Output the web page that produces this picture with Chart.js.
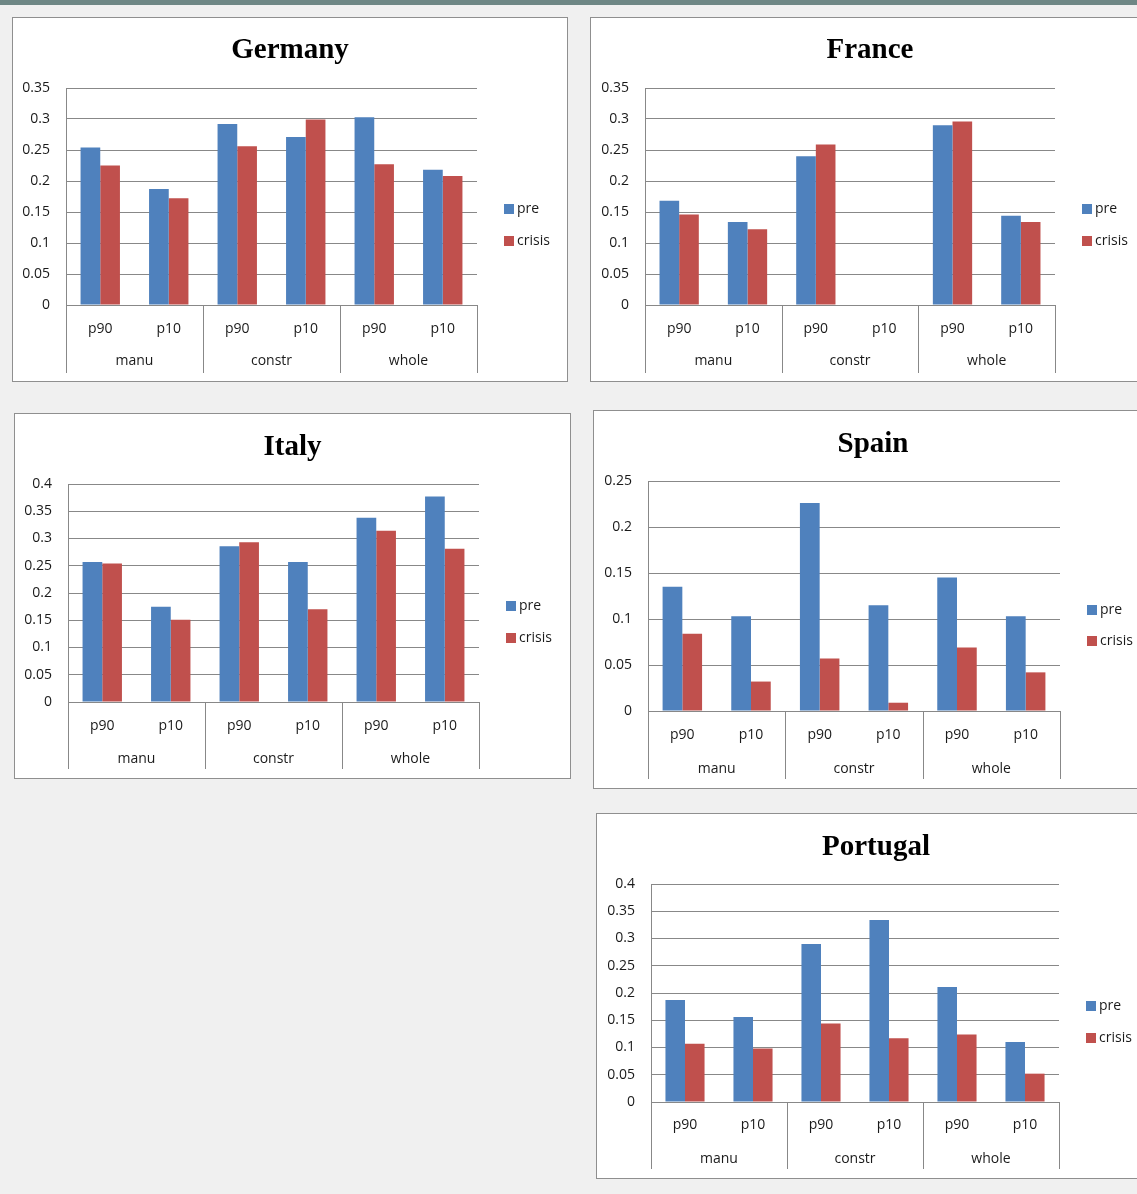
<!DOCTYPE html>
<html>
<head>
<meta charset="utf-8">
<script src="https://cdn.jsdelivr.net/npm/chart.js@4.4.0/dist/chart.umd.min.js"></script>
<style>
  html, body { margin: 0; padding: 0; }
  body { width: 1137px; height: 1194px; background: #f0f0f0; position: relative; overflow: hidden; }
  .topbar { position: absolute; left: 0; top: 0; width: 1137px; height: 5px; background: #6e8785; }
  .panel { position: absolute; box-sizing: border-box; border: 1px solid #8f8f8f; background: #fff; }
  .panel canvas { position: absolute; left: 0; top: 0; }
</style>
</head>
<body>
<div class="topbar"></div>
<script>
// categories
const groups = ['manu', 'constr', 'whole'];
const subCats = ['p90', 'p10', 'p90', 'p10', 'p90', 'p10'];
const seriesNames = ['pre', 'crisis'];

// values (p90/p10 for manu, constr, whole)
const germanyPre = [0.254, 0.187, 0.292, 0.271, 0.303, 0.218];
const germanyCrisis = [0.225, 0.172, 0.256, 0.299, 0.227, 0.208];
const francePre = [0.168, 0.134, 0.240, null, 0.290, 0.144];
const franceCrisis = [0.146, 0.122, 0.259, null, 0.296, 0.134];
const italyPre = [0.257, 0.175, 0.286, 0.257, 0.338, 0.377];
const italyCrisis = [0.254, 0.151, 0.293, 0.170, 0.314, 0.281];
const spainPre = [0.135, 0.103, 0.226, 0.115, 0.145, 0.103];
const spainCrisis = [0.084, 0.032, 0.057, 0.009, 0.069, 0.042];
const portugalPre = [0.187, 0.156, 0.290, 0.334, 0.211, 0.110];
const portugalCrisis = [0.107, 0.098, 0.144, 0.117, 0.124, 0.052];

// y axis maxima
const yMaxes = { Germany: 0.35, France: 0.35, Italy: 0.4, Spain: 0.25, Portugal: 0.4 };

const colors = ['#4f81bd', '#c0504d'];
const gridColor = '#888888';
const textColor = '#1a1a1a';
const sansFont = '"Open Sans", "Liberation Sans", sans-serif';

// panel layout, page pixels
const panels = [
  { title: 'Germany', pre: germanyPre, crisis: germanyCrisis,
    box: { x: 12, y: 17, w: 556, h: 365 }, plot: { l: 66, t: 88, r: 477, b: 305 },
    titleY: 48, legX: 504, legY: [209, 241], tickY: 329, groupY: 361, sepB: 373 },
  { title: 'France', pre: francePre, crisis: franceCrisis,
    box: { x: 590, y: 17, w: 560, h: 365 }, plot: { l: 645, t: 88, r: 1055, b: 305 },
    titleY: 48, legX: 1082, legY: [209, 241], tickY: 329, groupY: 361, sepB: 373 },
  { title: 'Italy', pre: italyPre, crisis: italyCrisis,
    box: { x: 14, y: 413, w: 557, h: 366 }, plot: { l: 68, t: 484, r: 479, b: 702 },
    titleY: 445, legX: 506, legY: [606, 638], tickY: 726, groupY: 759, sepB: 769 },
  { title: 'Spain', pre: spainPre, crisis: spainCrisis,
    box: { x: 593, y: 410, w: 560, h: 379 }, plot: { l: 648, t: 481, r: 1060, b: 711 },
    titleY: 442, legX: 1087, legY: [610, 641], tickY: 735, groupY: 769, sepB: 779 },
  { title: 'Portugal', pre: portugalPre, crisis: portugalCrisis,
    box: { x: 596, y: 813, w: 560, h: 366 }, plot: { l: 651, t: 884, r: 1059, b: 1102 },
    titleY: 845, legX: 1086, legY: [1006, 1038], tickY: 1125, groupY: 1159, sepB: 1169 },
];

// group labels + separators under the category axis, and the side legend
const excelBits = {
  id: 'excelBits',
  afterDraw(chart, args, opts) {
    const x = chart.scales.x;
    const area = chart.chartArea;
    const ctx = chart.ctx;
    const step = x.getPixelForValue(1) - x.getPixelForValue(0);
    const edge = (k) => x.getPixelForValue(0) + (k - 0.5) * step;

    ctx.save();
    ctx.strokeStyle = gridColor;
    ctx.lineWidth = 1;
    for (let g = 0; g <= groups.length; g++) {
      const px = Math.round(edge(g * 2)) + 0.5;
      ctx.beginPath();
      ctx.moveTo(px, area.bottom);
      ctx.lineTo(px, area.bottom + opts.sepLen);
      ctx.stroke();
    }

    ctx.fillStyle = textColor;
    ctx.font = '14px ' + sansFont;
    ctx.textAlign = 'center';
    ctx.textBaseline = 'middle';
    groups.forEach((name, g) => {
      ctx.fillText(name, (edge(g * 2) + edge(g * 2 + 2)) / 2, area.bottom + opts.groupOffset);
    });

    ctx.textAlign = 'left';
    chart.data.datasets.forEach((ds, i) => {
      const y = opts.legY[i];
      ctx.fillStyle = ds.backgroundColor;
      ctx.fillRect(opts.legX, y - 5, 10, 10);
      ctx.fillStyle = textColor;
      ctx.fillText(ds.label, opts.legX + 13, y);
    });
    ctx.restore();
  }
};

panels.forEach((p) => {
  const div = document.createElement('div');
  div.className = 'panel';
  div.style.left = p.box.x + 'px';
  div.style.top = p.box.y + 'px';
  div.style.width = p.box.w + 'px';
  div.style.height = p.box.h + 'px';
  const canvas = document.createElement('canvas');
  const cw = p.box.w - 2;
  const ch = p.box.h - 2;
  canvas.width = cw;
  canvas.height = ch;
  canvas.style.width = cw + 'px';
  canvas.style.height = ch + 'px';
  div.appendChild(canvas);
  document.body.appendChild(div);

  const ox = p.box.x + 1;
  const oy = p.box.y + 1;
  const titleSize = 29;
  const titlePadTop = p.titleY - oy - titleSize / 2 + 3;
  const titlePadBottom = (p.plot.t - oy) - titlePadTop - titleSize;

  new Chart(canvas, {
    type: 'bar',
    data: {
      labels: subCats,
      datasets: [
        { label: seriesNames[0], data: p.pre, backgroundColor: colors[0] },
        { label: seriesNames[1], data: p.crisis, backgroundColor: colors[1] },
      ],
    },
    options: {
      responsive: false,
      animation: false,
      devicePixelRatio: 1,
      datasets: {
        bar: { barPercentage: 1, categoryPercentage: 0.575, borderWidth: 0 },
      },
      layout: { padding: 0 },
      plugins: {
        legend: { display: false },
        tooltip: { enabled: false },
        title: {
          display: true,
          text: p.title,
          color: '#000',
          font: { family: '"Liberation Serif", "Times New Roman", serif', weight: 'bold', size: titleSize, lineHeight: 1 },
          padding: { top: titlePadTop, bottom: titlePadBottom },
        },
        excelBits: {
          sepLen: p.sepB - p.plot.b,
          groupOffset: p.groupY - p.plot.b,
          legX: p.legX - ox,
          legY: p.legY.map((v) => v - oy),
        },
      },
      scales: {
        x: {
          type: 'category',
          grid: { display: false },
          border: { display: false },
          ticks: {
            color: textColor,
            font: { family: sansFont, size: 14 },
            padding: p.tickY - p.plot.b - 16,
            maxRotation: 0,
            autoSkip: false,
          },
          afterFit: (s) => { s.height = ch - (p.plot.b - oy); },
        },
        y: {
          min: 0,
          max: yMaxes[p.title],
          grid: { color: gridColor, drawTicks: false },
          border: { color: gridColor },
          ticks: {
            stepSize: 0.05,
            color: textColor,
            font: { family: sansFont, size: 14 },
            padding: 16,
            callback: (v) => String(+v.toFixed(2)),
          },
          afterFit: (s) => { s.width = p.plot.l - ox; },
        },
        legendSpace: {
          position: 'right',
          display: true,
          grid: { display: false },
          border: { display: false },
          ticks: { display: false },
          afterFit: (s) => { s.width = cw - (p.plot.r - ox); },
        },
      },
    },
    plugins: [excelBits],
  });
});
</script>
</body>
</html>
